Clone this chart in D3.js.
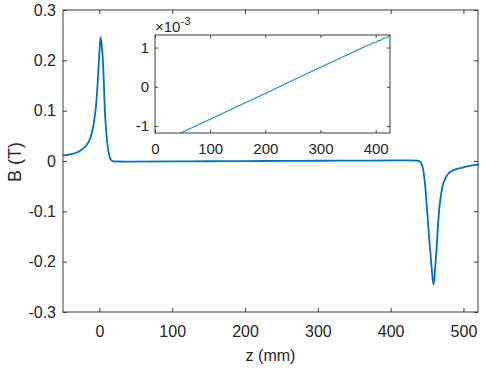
<!DOCTYPE html>
<html>
<head>
<meta charset="utf-8">
<script src="https://cdn.jsdelivr.net/npm/d3@7"></script>
<style>
  body { margin: 0; background: #fff; }
  svg text { font-family: "Liberation Sans", Arial, sans-serif; fill: #262626; }
</style>
</head>
<body>
<script>
// main curve: z (mm) and B (T)
var zMain = [-50, -40, -31, -24, -17, -12, -8, -5, -3, -1, 0, 1.5, 3, 4.5, 6, 7.3, 9, 10.5, 12.5, 15, 18, 22,
  46, 100, 150, 200, 250, 300, 350, 400, 425, 436, 440, 441.5, 443, 444.7, 446, 447.5, 449, 450.7, 452, 453.5, 455, 456.5, 458, 459,
  460, 461, 462, 463, 464, 465, 466.7, 469, 471, 475, 480.5, 490, 499, 510, 521];
var bMain = [0.011, 0.013, 0.017, 0.023, 0.033, 0.047, 0.073, 0.105, 0.140, 0.190, 0.215, 0.246, 0.232, 0.206, 0.160, 0.107, 0.065, 0.040, 0.018, 0.004, 0.000, -0.001,
  -0.0012, -0.0008, -0.0005, -0.0002, 0.0002, 0.0005, 0.0008, 0.0011, 0.0013, 0.0008, -0.001, -0.003, -0.008, -0.017, -0.030, -0.050, -0.078, -0.109, -0.135, -0.165, -0.189, -0.215, -0.238, -0.245,
  -0.235, -0.215, -0.196, -0.176, -0.152, -0.130, -0.096, -0.070, -0.052, -0.035, -0.023, -0.016, -0.013, -0.009, -0.0066];

// inset: z (mm) and B (x 1e-3 T)
var zInset = [46.6, 100, 150, 200, 250, 300, 350, 380, 385, 390, 395, 400, 405, 410, 415, 420, 426];
var bInset = [-1.18, -0.83, -0.50, -0.17, 0.165, 0.495, 0.825, 1.02, 1.06, 1.07, 1.12, 1.13, 1.17, 1.19, 1.24, 1.25, 1.32];

var xTicks = [0, 100, 200, 300, 400, 500];
var yTicks = [-0.3, -0.2, -0.1, 0, 0.1, 0.2, 0.3];
var xTicksInset = [0, 100, 200, 300, 400];
var yTicksInset = [-1, 0, 1];

var W = 484, H = 369;
var mL = 63, mR = 478, mT = 10, mB = 312;
var axisColor = "#3c3c3c";
var lineColor = "#0072BD";

// matlab writes a plain hyphen for minus
function fmt(d) {
    var s = d === 0 ? "0" : (Number.isInteger(d) ? String(d) : d.toFixed(1));
    return s.replace("\u2212", "-");
}

var svg = d3.select("body").append("svg")
    .attr("width", W)
    .attr("height", H);

var x = d3.scaleLinear().domain([-50, 520]).range([mL, mR]);
var y = d3.scaleLinear().domain([-0.3, 0.3]).range([mB, mT]);

// the trace
var mainData = zMain.map(function (z, i) { return [z, bMain[i]]; });
var line = d3.line()
    .x(function (d) { return x(d[0]); })
    .y(function (d) { return y(d[1]); })
    .curve(d3.curveMonotoneX);

svg.append("path")
    .datum(mainData)
    .attr("fill", "none")
    .attr("stroke", lineColor)
    .attr("stroke-width", 1.8)
    .attr("stroke-linejoin", "round")
    .attr("d", line);

// axes, MATLAB style: box on, ticks inward
function styleAxis(g) {
    g.select(".domain").remove();
    g.selectAll(".tick line").attr("stroke", axisColor);
    g.selectAll(".tick text").attr("fill", "#262626");
}

svg.append("g")
    .attr("transform", "translate(0," + mB + ")")
    .call(d3.axisBottom(x).tickValues(xTicks).tickSize(-4).tickSizeOuter(0).tickPadding(14).tickFormat(fmt))
    .attr("font-size", 16)
    .attr("font-family", null)
    .call(styleAxis);

svg.append("g")
    .attr("transform", "translate(0," + mT + ")")
    .call(d3.axisTop(x).tickValues(xTicks).tickSize(-4).tickSizeOuter(0).tickFormat(""))
    .call(styleAxis);

svg.append("g")
    .attr("transform", "translate(" + mL + ",0)")
    .call(d3.axisLeft(y).tickValues(yTicks).tickSize(-4).tickSizeOuter(0).tickPadding(7).tickFormat(fmt))
    .attr("font-size", 16)
    .attr("font-family", null)
    .call(styleAxis);

svg.append("g")
    .attr("transform", "translate(" + mR + ",0)")
    .call(d3.axisRight(y).tickValues(yTicks).tickSize(-4).tickSizeOuter(0).tickFormat(""))
    .call(styleAxis);

svg.append("rect")
    .attr("x", mL).attr("y", mT)
    .attr("width", mR - mL).attr("height", mB - mT)
    .attr("fill", "none")
    .attr("stroke", axisColor)
    .attr("stroke-width", 1);

svg.append("text")
    .attr("x", (mL + mR) / 2)
    .attr("y", 361)
    .attr("text-anchor", "middle")
    .attr("font-size", 16)
    .text("z (mm)");

svg.append("text")
    .attr("transform", "translate(21," + 162 + ") rotate(-90)")
    .attr("text-anchor", "middle")
    .attr("font-size", 18)
    .text("B (T)");

// inset
var iL = 155, iR = 390, iT = 35, iB = 133;
var xi = d3.scaleLinear().domain([0, 426]).range([iL, iR]);
var yi = d3.scaleLinear().domain([-1.18, 1.32]).range([iB, iT]);

svg.append("rect")
    .attr("x", iL).attr("y", iT)
    .attr("width", iR - iL).attr("height", iB - iT)
    .attr("fill", "#fff");

var insetData = zInset.map(function (z, i) { return [z, bInset[i]]; });
svg.append("path")
    .datum(insetData)
    .attr("fill", "none")
    .attr("stroke", "#1a8cb8")
    .attr("stroke-width", 1.1)
    .attr("d", d3.line()
        .x(function (d) { return xi(d[0]); })
        .y(function (d) { return yi(d[1]); }));

svg.append("g")
    .attr("transform", "translate(0," + iB + ")")
    .call(d3.axisBottom(xi).tickValues(xTicksInset).tickSize(-3).tickSizeOuter(0).tickPadding(10).tickFormat(fmt))
    .attr("font-size", 15)
    .attr("font-family", null)
    .call(styleAxis);

svg.append("g")
    .attr("transform", "translate(0," + iT + ")")
    .call(d3.axisTop(xi).tickValues(xTicksInset).tickSize(-3).tickSizeOuter(0).tickFormat(""))
    .call(styleAxis);

svg.append("g")
    .attr("transform", "translate(" + iL + ",0)")
    .call(d3.axisLeft(yi).tickValues(yTicksInset).tickSize(-3).tickSizeOuter(0).tickPadding(6).tickFormat(fmt))
    .attr("font-size", 15)
    .attr("font-family", null)
    .call(styleAxis);

svg.append("g")
    .attr("transform", "translate(" + iR + ",0)")
    .call(d3.axisRight(yi).tickValues(yTicksInset).tickSize(-3).tickSizeOuter(0).tickFormat(""))
    .call(styleAxis);

svg.append("rect")
    .attr("x", iL).attr("y", iT)
    .attr("width", iR - iL).attr("height", iB - iT)
    .attr("fill", "none")
    .attr("stroke", axisColor)
    .attr("stroke-width", 1);

// exponent label
var expo = svg.append("text")
    .attr("x", iL)
    .attr("y", 31.5)
    .attr("font-size", 15);
expo.append("tspan").text("\u00d710");
expo.append("tspan").attr("dy", -7).attr("font-size", 11.5).text("-3");
</script>
</body>
</html>
